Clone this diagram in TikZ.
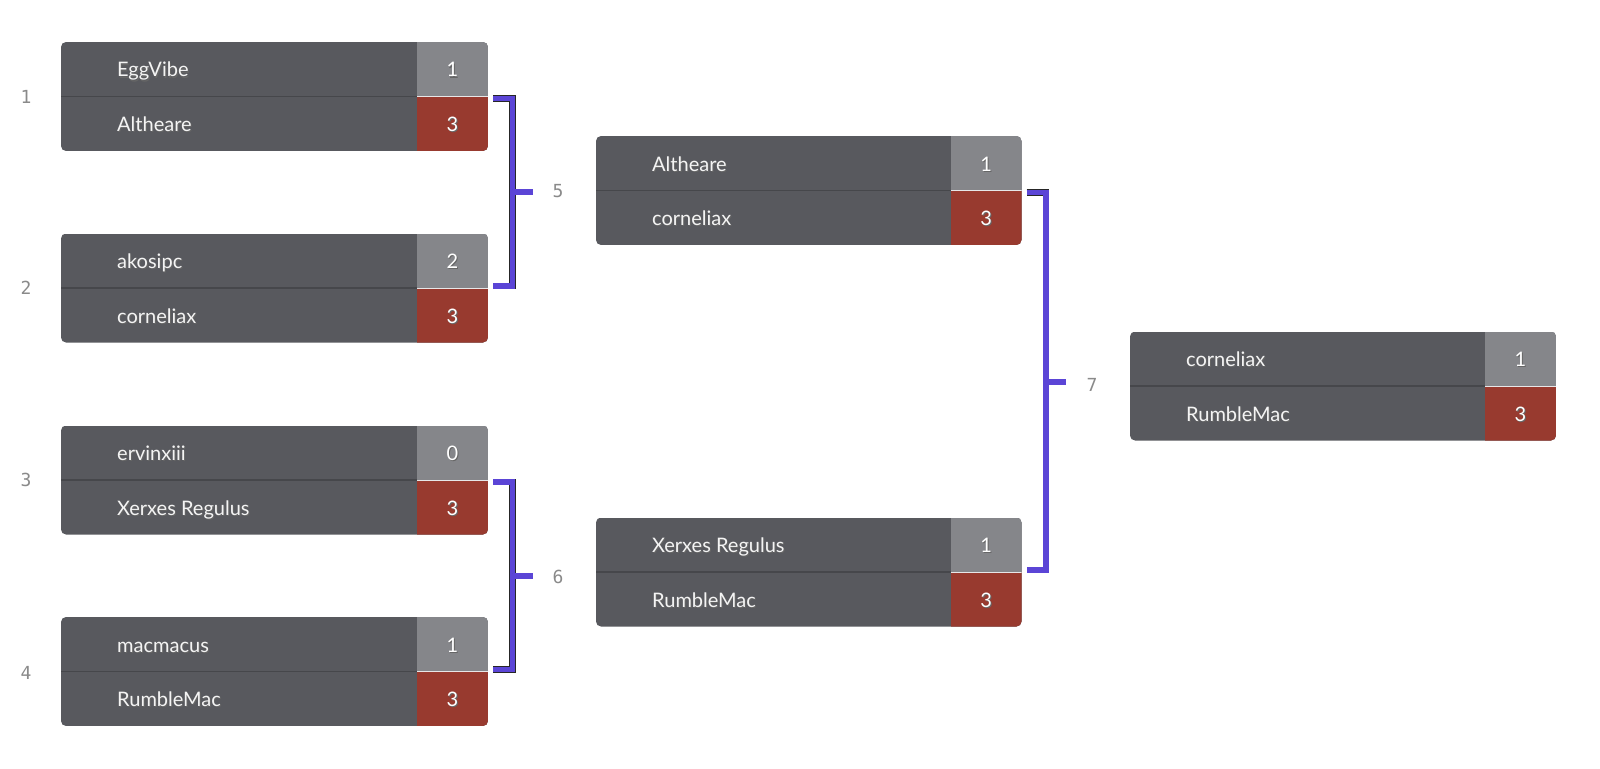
\documentclass[tikz,border=0pt]{standalone}
\usepackage{fontspec}
\setmainfont{Lato}
\newfontfamily\labfont{DejaVu Sans Mono}
\usetikzlibrary{fit}
\definecolor{body}{HTML}{58595E}
\definecolor{sgray}{HTML}{85868A}
\definecolor{sred}{HTML}{983A2F}
\definecolor{cpurple}{HTML}{5B45D6}
\definecolor{sep}{HTML}{46474B}
\definecolor{labgray}{HTML}{8A8A8A}
\definecolor{txt}{HTML}{F4F4F4}

\newcommand\shtext[1]{\rlap{\kern1pt\raisebox{-1.3pt}{\textcolor{black!60}{#1}}}#1}

\tikzset{
  pname/.style={inner sep=0pt, anchor=base west, text=txt, font=\fontsize{20}{24}\selectfont},
  pscore/.style={inner sep=0pt, anchor=base, text=white, font=\fontsize{20}{24}\selectfont},
  rlabel/.style={inner sep=0pt, text=labgray, font=\labfont\fontsize{18}{20}\selectfont},
  conn/.style={draw=cpurple, line width=5.2pt, line join=miter, preaction={draw=black!85, line width=6.8pt}},
  mbox/.style={inner sep=0pt, draw=none}
}

% #1 id, #2 x left, #3 y top, #4 score x, #5 x right, #6 p1, #7 s1, #8 p2, #9 s2
\newcommand\matchbox[9]{%
  \begin{scope}
    \clip[rounded corners=5pt] (#2,#3) rectangle (#5,#3+109);
    \fill[body] (#2,#3) rectangle (#5,#3+109);
    \fill[sgray] (#4,#3) rectangle (#5,#3+54.5);
    \fill[sred] (#4,#3+54.5) rectangle (#5,#3+109);
    \draw[sep, line width=1.5pt] (#2,#3+54.5) -- (#4,#3+54.5);
    \draw[white!80!sgray, line width=1pt] (#4,#3+54.5) -- (#5,#3+54.5);
  \end{scope}
  \node[mbox, fit={(#2,#3) (#5,#3+109)}] (#1) {};
  \node[pname] (#1a) at (#2+56,#3+35) {\shtext{#6}};
  \node[pscore] (#1as) at ({(#4+#5)/2},#3+35) {\shtext{#7}};
  \node[pname] (#1b) at (#2+56,#3+89.5) {\shtext{#8}};
  \node[pscore] (#1bs) at ({(#4+#5)/2},#3+89.5) {\shtext{#9}};
}

\begin{document}
\begin{tikzpicture}[x=1pt,y=-1pt]
\useasboundingbox (0,0) rectangle (1600,768);

\matchbox{m1}{61}{42}{417}{488}{EggVibe}{1}{Altheare}{3}
\matchbox{m2}{61}{233.5}{417}{488}{akosipc}{2}{corneliax}{3}
\matchbox{m3}{61}{425.5}{417}{488}{ervinxiii}{0}{Xerxes Regulus}{3}
\matchbox{m4}{61}{617}{417}{488}{macmacus}{1}{RumbleMac}{3}
\matchbox{m5}{596}{136}{951}{1021.5}{Altheare}{1}{corneliax}{3}
\matchbox{m6}{596}{517.5}{951}{1021.5}{Xerxes Regulus}{1}{RumbleMac}{3}
\matchbox{m7}{1130}{331.5}{1485}{1556}{corneliax}{1}{RumbleMac}{3}

\node[rlabel] (l1) at (26,97) {1};
\node[rlabel] (l2) at (26,288) {2};
\node[rlabel] (l3) at (26,480) {3};
\node[rlabel] (l4) at (26,673) {4};
\node[rlabel] (l5) at (558,191) {5};
\node[rlabel] (l6) at (558,577) {6};
\node[rlabel] (l7) at (1092,385) {7};

\coordinate (j5) at (512.5,192);
\coordinate (t5) at (533,192);
\coordinate (j6) at (512.5,576);
\coordinate (t6) at (533,576);
\coordinate (j7) at (1046,382);
\coordinate (t7) at (1066,382);

\draw[conn] ([shift={(5,2)}]m1.east) -| (j5) |- ([shift={(5,-2)}]m2.east);
\draw[conn] (j5) -- (t5);
\draw[conn] ([shift={(5,2)}]m3.east) -| (j6) |- ([shift={(5,-2)}]m4.east);
\draw[conn] (j6) -- (t6);
\draw[conn] ([shift={(5,2)}]m5.east) -| (j7) |- ([shift={(5,-2)}]m6.east);
\draw[conn] (j7) -- (t7);
\end{tikzpicture}
\end{document}
